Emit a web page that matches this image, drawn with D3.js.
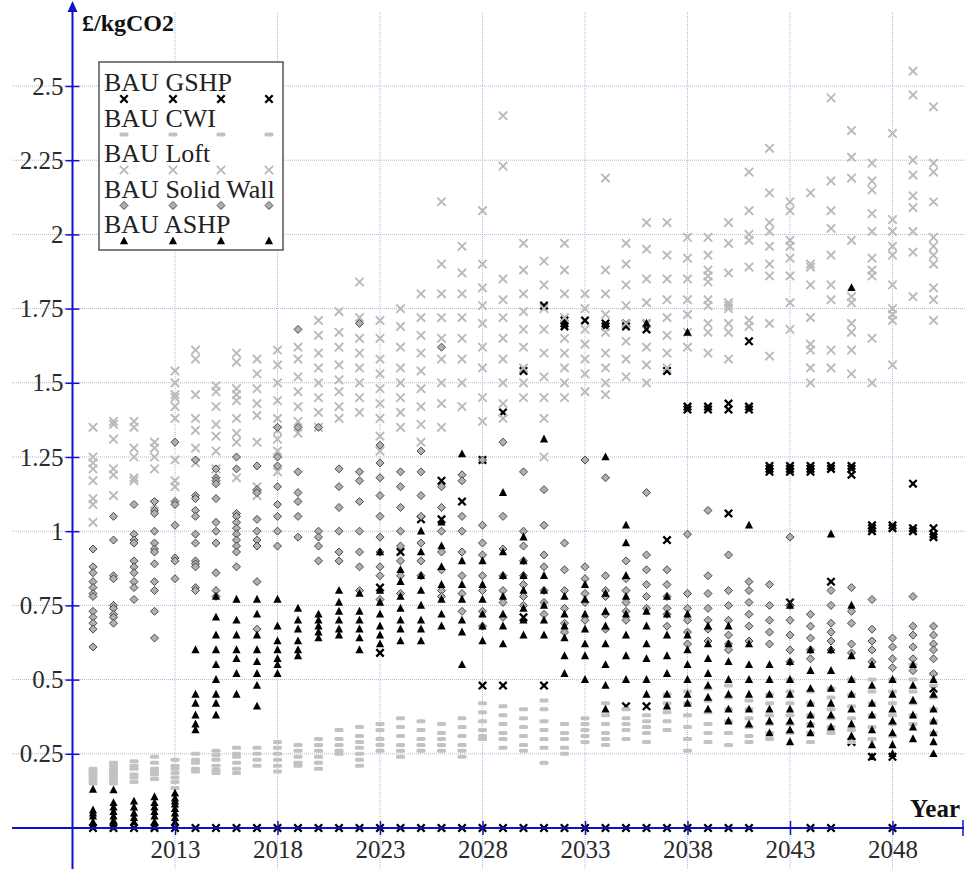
<!DOCTYPE html>
<html>
<head>
<meta charset="utf-8">
<script src="https://cdn.jsdelivr.net/npm/d3@7"></script>
<style>
  body { margin: 0; background: #fff; }
  text { font-family: "Liberation Serif", "Times New Roman", serif; }
</style>
</head>
<body>
<svg id="chart" width="966" height="869"></svg>
<script>
// ---- data (£/kgCO2 per year) ----
const years = [2009, 2010, 2011, 2012, 2013, 2014, 2015, 2016, 2017, 2018, 2019, 2020, 2021, 2022,
	2023, 2024, 2025, 2026, 2027, 2028, 2029, 2030, 2031, 2032, 2033, 2034, 2035, 2036, 2037, 2038,
	2039, 2040, 2041, 2042, 2043, 2044, 2045, 2046, 2047, 2048, 2049, 2050]

const gshp = [
	[0], [0], [0], [0], [0], [0], [0], [0], [0], [0], [0], [0], [0], [0],
	[0, 0.81, 0.59], [0, 0.93], [0, 1.04], [0, 1.17, 1.04], [0, 1.10], [0, 1.24, 0.48],
	[0, 1.40, 0.48], [0, 1.54, 0.71], [0, 1.76, 0.48], [0, 1.71, 1.70, 1.69], [0, 1.71],
	[0, 1.70, 1.69], [0, 1.70, 1.69, 0.41], [0, 1.70, 1.68, 0.41], [0, 1.54, 0.97],
	[0, 1.42, 1.41], [0, 1.42, 1.41], [0, 1.43, 1.41, 1.06], [0, 1.42, 1.41, 1.64],
	[1.22, 1.21, 1.20], [1.22, 1.21, 1.20, 0.76], [0, 1.22, 1.21, 1.20], [0, 1.22, 1.21, 0.83],
	[1.22, 1.21, 1.19, 0.29], [1.02, 1.01, 1.0, 0.24], [0, 1.02, 1.01, 0.24],
	[1.16, 1.01, 1.0], [1.01, 0.99, 0.98, 0.47]
]

const cwi = [
	[0.20, 0.19, 0.18, 0.17, 0.16, 0.15], [0.22, 0.21, 0.2, 0.19, 0.18, 0.17, 0.16, 0.15],
	[0.225, 0.21, 0.2, 0.18, 0.17, 0.155], [0.24, 0.22, 0.2, 0.19, 0.18, 0.165],
	[0.23, 0.21, 0.2, 0.185, 0.17, 0.155, 0.135], [0.25, 0.23, 0.22, 0.2, 0.19],
	[0.26, 0.245, 0.23, 0.21, 0.195, 0.185], [0.27, 0.25, 0.24, 0.22, 0.2, 0.185],
	[0.27, 0.25, 0.23, 0.21], [0.29, 0.27, 0.25, 0.23, 0.21, 0.19], [0.28, 0.26, 0.24, 0.22, 0.21],
	[0.30, 0.28, 0.26, 0.24, 0.22, 0.2], [0.33, 0.3, 0.28, 0.26, 0.25],
	[0.34, 0.31, 0.29, 0.27, 0.25, 0.23, 0.21], [0.35, 0.33, 0.3, 0.28, 0.26],
	[0.37, 0.34, 0.31, 0.28, 0.26, 0.24], [0.36, 0.33, 0.3, 0.28, 0.26], [0.35, 0.32, 0.3, 0.28, 0.26],
	[0.37, 0.34, 0.31, 0.28, 0.26, 0.24], [0.42, 0.39, 0.36, 0.33, 0.31, 0.3],
	[0.41, 0.38, 0.35, 0.32, 0.3, 0.27], [0.40, 0.37, 0.34, 0.31, 0.28, 0.26],
	[0.43, 0.4, 0.36, 0.33, 0.3, 0.27, 0.22], [0.35, 0.32, 0.3, 0.27, 0.25],
	[0.37, 0.35, 0.33, 0.31, 0.29], [0.42, 0.38, 0.35, 0.32, 0.3, 0.28], [0.40, 0.37, 0.35, 0.33, 0.3],
	[0.38, 0.36, 0.34, 0.32, 0.29], [0.45, 0.42, 0.39, 0.36, 0.33], [0.46, 0.42, 0.38, 0.34, 0.3, 0.26],
	[0.47, 0.43, 0.39, 0.35, 0.32, 0.29], [0.48, 0.44, 0.4, 0.36, 0.32, 0.28],
	[0.43, 0.4, 0.37, 0.34, 0.31, 0.29], [0.45, 0.42, 0.38, 0.35, 0.32, 0.3],
	[0.5, 0.46, 0.42, 0.38, 0.35, 0.32], [0.46, 0.42, 0.38, 0.35, 0.32, 0.29],
	[0.47, 0.44, 0.4, 0.37, 0.34, 0.32], [0.5, 0.45, 0.41, 0.37, 0.33, 0.29],
	[0.5, 0.46, 0.42, 0.38, 0.34, 0.3], [0.5, 0.46, 0.42, 0.38, 0.35, 0.31],
	[0.55, 0.5, 0.46, 0.42, 0.38, 0.35], [0.52, 0.48, 0.44, 0.4, 0.36, 0.32]
]

const loft = [
	[1.35, 1.25, 1.23, 1.21, 1.17, 1.11, 1.09, 1.03], [1.37, 1.36, 1.31, 1.21, 1.19, 1.12],
	[1.37, 1.35, 1.28, 1.25, 1.18, 1.17], [1.30, 1.28, 1.25, 1.21, 1.09],
	[1.54, 1.5, 1.46, 1.45, 1.42, 1.38, 1.24, 1.17, 1.15], [1.61, 1.58, 1.46, 1.38, 1.34, 1.28, 1.23],
	[1.49, 1.47, 1.42, 1.36, 1.32, 1.27, 1.21], [1.60, 1.57, 1.48, 1.46, 1.44, 1.38, 1.33, 1.30, 1.18],
	[1.58, 1.53, 1.48, 1.43, 1.39, 1.30, 1.15, 1.12], [1.61, 1.56, 1.5, 1.44, 1.38, 1.34, 1.31, 1.27, 1.2],
	[1.62, 1.58, 1.52, 1.47, 1.42, 1.37, 1.33], [1.71, 1.66, 1.6, 1.55, 1.5, 1.45, 1.4, 1.35],
	[1.74, 1.67, 1.62, 1.56, 1.51, 1.47, 1.42, 1.38], [1.84, 1.72, 1.65, 1.6, 1.55, 1.5, 1.45, 1.4],
	[1.71, 1.65, 1.58, 1.53, 1.48, 1.43, 1.38, 1.32, 1.27], [1.75, 1.69, 1.62, 1.55, 1.5, 1.45, 1.4, 1.35],
	[1.8, 1.72, 1.66, 1.6, 1.54, 1.48, 1.42, 1.36, 1.3], [2.11, 1.9, 1.8, 1.72, 1.65, 1.58, 1.5, 1.43, 1.35],
	[1.96, 1.87, 1.8, 1.72, 1.65, 1.58, 1.5, 1.42], [2.08, 1.9, 1.82, 1.76, 1.7, 1.62, 1.55, 1.45, 1.37],
	[2.40, 2.23, 1.85, 1.78, 1.72, 1.65, 1.58, 1.5, 1.43, 1.38], [1.97, 1.88, 1.8, 1.74, 1.68, 1.62, 1.55, 1.5, 1.45],
	[1.91, 1.83, 1.75, 1.68, 1.6, 1.52, 1.45, 1.38, 1.25], [1.97, 1.88, 1.8, 1.72, 1.65, 1.6, 1.55, 1.5, 1.45],
	[1.80, 1.75, 1.68, 1.63, 1.58, 1.53, 1.47], [2.19, 1.88, 1.8, 1.73, 1.67, 1.6, 1.55, 1.5, 1.46],
	[1.97, 1.9, 1.83, 1.76, 1.7, 1.64, 1.58, 1.52], [2.04, 1.95, 1.85, 1.77, 1.7, 1.62, 1.56, 1.5],
	[2.04, 1.93, 1.85, 1.78, 1.72, 1.66, 1.6, 1.55], [1.99, 1.92, 1.85, 1.78, 1.73, 1.67, 1.62],
	[1.99, 1.93, 1.88, 1.86, 1.84, 1.78, 1.76, 1.7, 1.67, 1.6],
	[2.04, 1.97, 1.87, 1.77, 1.76, 1.75, 1.7, 1.67, 1.58], [2.21, 2.08, 2.0, 1.98, 1.89, 1.71, 1.69],
	[2.29, 2.14, 2.04, 2.01, 1.96, 1.9, 1.86, 1.7, 1.59], [2.11, 2.08, 1.98, 1.96, 1.92, 1.86, 1.77, 1.68],
	[2.14, 1.9, 1.89, 1.83, 1.72, 1.63, 1.61, 1.55, 1.5], [2.46, 2.18, 2.08, 2.02, 1.93, 1.83, 1.78, 1.61, 1.55],
	[2.35, 2.26, 2.19, 1.98, 1.79, 1.77, 1.7, 1.67, 1.61, 1.53],
	[2.24, 2.18, 2.15, 2.07, 2.01, 1.92, 1.88, 1.86, 1.65, 1.5],
	[2.34, 2.05, 2.01, 1.96, 1.93, 1.83, 1.75, 1.73, 1.71, 1.56],
	[2.55, 2.47, 2.25, 2.2, 2.13, 2.09, 2.01, 1.94, 1.79],
	[2.43, 2.24, 2.21, 2.11, 1.99, 1.96, 1.93, 1.9, 1.82, 1.78, 1.71]
]

const solidWall = [
	[0.94, 0.88, 0.86, 0.83, 0.81, 0.79, 0.78, 0.73, 0.71, 0.69, 0.67, 0.61],
	[1.05, 0.97, 0.85, 0.84, 0.75, 0.74, 0.72, 0.71, 0.69],
	[1.09, 0.99, 0.97, 0.96, 0.9, 0.88, 0.86, 0.83, 0.81, 0.77],
	[1.10, 1.07, 1.06, 1.0, 0.96, 0.94, 0.93, 0.89, 0.83, 0.80, 0.73, 0.64],
	[1.30, 1.10, 1.09, 1.02, 0.91, 0.90, 0.84],
	[1.24, 1.12, 1.11, 1.07, 1.05, 0.99, 0.96, 0.9, 0.89, 0.88, 0.81, 0.8],
	[1.21, 1.18, 1.17, 1.16, 1.11, 1.03, 1.0, 0.96, 0.86, 0.8, 0.78],
	[1.25, 1.21, 1.06, 1.05, 1.03, 1.01, 0.99, 0.97, 0.95, 0.93, 0.88],
	[1.22, 1.14, 1.13, 1.04, 1.0, 0.97, 0.95, 0.83, 0.67],
	[1.35, 1.25, 1.22, 1.15, 1.09, 1.05, 1.0, 0.95],
	[1.68, 1.35, 1.2, 1.13, 1.1, 1.05, 0.98],
	[1.35, 1.0, 0.98, 0.95, 0.9],
	[1.21, 1.15, 1.08, 1.0, 0.93, 0.9],
	[1.70, 1.2, 1.17, 1.1, 1.0, 0.93, 0.88, 0.8],
	[1.29, 1.23, 1.18, 1.12, 1.05, 0.98, 0.93, 0.88, 0.85, 0.77],
	[1.2, 1.15, 1.08, 1.0, 0.95, 0.9, 0.85, 0.79],
	[1.27, 1.2, 1.12, 1.05, 0.96, 0.9, 0.85],
	[1.62, 1.15, 1.08, 1.0, 0.93, 0.87, 0.8, 0.78],
	[1.19, 1.17, 1.05, 1.0, 0.93, 0.85, 0.79, 0.73],
	[1.24, 1.02, 0.96, 0.92, 0.85, 0.8, 0.73, 0.68],
	[1.30, 1.05, 0.94, 0.85, 0.8, 0.76, 0.71],
	[1.20, 1.0, 0.95, 0.9, 0.85, 0.82, 0.78, 0.75],
	[1.14, 1.02, 0.92, 0.88, 0.8, 0.76, 0.72],
	[0.96, 0.87, 0.8, 0.74, 0.69, 0.66],
	[1.24, 0.88, 0.84, 0.79, 0.76, 0.7],
	[1.18, 0.85, 0.8, 0.78, 0.72, 0.67],
	[0.9, 0.84, 0.8, 0.76, 0.73, 0.7],
	[1.13, 0.92, 0.87, 0.82, 0.78, 0.74],
	[0.87, 0.82, 0.78, 0.74, 0.72, 0.68],
	[0.99, 0.79, 0.74, 0.7, 0.66, 0.62],
	[1.07, 0.85, 0.79, 0.74, 0.7, 0.67, 0.63],
	[0.92, 0.8, 0.75, 0.7, 0.65, 0.62, 0.6],
	[0.83, 0.8, 0.76, 0.72, 0.68, 0.63],
	[0.82, 0.75, 0.7, 0.66, 0.62],
	[0.98, 0.75, 0.7, 0.65, 0.6, 0.56],
	[0.72, 0.68, 0.64, 0.6, 0.57],
	[0.8, 0.75, 0.69, 0.66, 0.63, 0.6],
	[0.81, 0.73, 0.69, 0.62, 0.59],
	[0.77, 0.67, 0.63, 0.6, 0.56],
	[0.64, 0.61, 0.57, 0.54],
	[0.78, 0.68, 0.65, 0.61, 0.57, 0.53],
	[0.68, 0.65, 0.62, 0.6, 0.57, 0.52]
]

const ashp = [
	[0.13, 0.06, 0.05, 0.04, 0.02, 0.01], [0.128, 0.085, 0.07, 0.055, 0.04, 0.025, 0.01],
	[0.09, 0.07, 0.05, 0.035, 0.02], [0.105, 0.085, 0.07, 0.055, 0.04, 0.02, 0.005],
	[0.117, 0.1, 0.09, 0.08, 0.065, 0.05, 0.035, 0.02],
	[0.6, 0.45, 0.42, 0.38, 0.35, 0.33],
	[0.78, 0.71, 0.65, 0.6, 0.55, 0.5, 0.45, 0.42, 0.38],
	[0.77, 0.7, 0.65, 0.6, 0.57, 0.52, 0.45],
	[0.77, 0.72, 0.65, 0.6, 0.56, 0.52, 0.48, 0.41],
	[0.77, 0.68, 0.63, 0.6, 0.57, 0.55, 0.52],
	[0.74, 0.7, 0.67, 0.63, 0.6, 0.58],
	[0.72, 0.7, 0.68, 0.66, 0.64],
	[0.8, 0.76, 0.73, 0.7, 0.67, 0.65],
	[0.79, 0.73, 0.7, 0.67, 0.64, 0.6],
	[0.93, 0.8, 0.76, 0.72, 0.68, 0.65, 0.62],
	[0.87, 0.83, 0.78, 0.74, 0.7, 0.67, 0.63],
	[1.0, 0.93, 0.85, 0.8, 0.75, 0.7, 0.67, 0.63],
	[1.03, 0.95, 0.88, 0.82, 0.77, 0.72, 0.68],
	[1.26, 0.9, 0.82, 0.77, 0.7, 0.66, 0.55],
	[0.9, 0.82, 0.77, 0.72, 0.68, 0.63],
	[1.13, 0.93, 0.85, 0.78, 0.72, 0.68, 0.62],
	[0.98, 0.9, 0.85, 0.8, 0.74, 0.7, 0.65],
	[1.31, 0.85, 0.8, 0.75, 0.7, 0.65],
	[1.7, 0.78, 0.72, 0.68, 0.64, 0.58, 0.52],
	[0.82, 0.77, 0.72, 0.67, 0.62, 0.58, 0.5],
	[1.25, 0.79, 0.73, 0.68, 0.62, 0.55, 0.48, 0.4],
	[1.02, 0.96, 0.85, 0.78, 0.72, 0.65, 0.58, 0.5],
	[1.70, 0.73, 0.68, 0.62, 0.57, 0.5, 0.45],
	[0.78, 0.72, 0.65, 0.58, 0.52, 0.45, 0.41],
	[1.67, 0.72, 0.65, 0.6, 0.55, 0.5, 0.45, 0.42],
	[0.68, 0.62, 0.57, 0.52, 0.48, 0.44, 0.4],
	[0.68, 0.62, 0.56, 0.5, 0.45, 0.4, 0.36],
	[1.02, 0.62, 0.55, 0.5, 0.45, 0.4, 0.35],
	[0.55, 0.5, 0.45, 0.4, 0.36, 0.32],
	[0.75, 0.56, 0.5, 0.45, 0.4, 0.36, 0.33, 0.29],
	[0.6, 0.53, 0.47, 0.42, 0.38, 0.35, 0.32],
	[0.99, 0.6, 0.53, 0.47, 0.42, 0.38, 0.34],
	[1.82, 0.75, 0.58, 0.5, 0.45, 0.4, 0.35, 0.31],
	[0.55, 0.48, 0.42, 0.38, 0.33, 0.28, 0.24],
	[0.5, 0.45, 0.4, 0.36, 0.32, 0.28, 0.25],
	[0.55, 0.48, 0.43, 0.38, 0.34, 0.3],
	[0.5, 0.45, 0.4, 0.36, 0.32, 0.29, 0.25]
]

const seriesNames = ["BAU GSHP", "BAU CWI", "BAU Loft", "BAU Solid Wall", "BAU ASHP"]
const xTicks = [2013, 2018, 2023, 2028, 2033, 2038, 2043, 2048]
const yTicks = [0.25, 0.5, 0.75, 1, 1.25, 1.5, 1.75, 2, 2.25, 2.5]
const yTickLabels = ["0.25", "0.5", "0.75", "1", "1.25", "1.5", "1.75", "2", "2.25", "2.5"]

// ---- layout ----
const W = 966, H = 869
const axisColour = "#1010c8"
const gridColour = "#b4b4dc"
const serif = "'Liberation Serif', 'Times New Roman', serif"

const x = d3.scaleLinear().domain([2008, 2050]).range([72.5, 933.5])
const y = d3.scaleLinear().domain([0, 2.5]).range([828, 86])

const svg = d3.select("#chart")

// marker painters, one per series
const markers = [
	g => g.append("path").attr("d", "M-3.7,-3.7L3.7,3.7M-3.7,3.7L3.7,-3.7")
		.attr("stroke", "#000").attr("stroke-width", 2.3).attr("fill", "none"),
	g => g.append("rect").attr("x", -4.5).attr("y", -2).attr("width", 9).attr("height", 4)
		.attr("rx", 1.5).attr("fill", "#c2c2c2"),
	g => g.append("path").attr("d", "M-4.2,-4.2L4.2,4.2M-4.2,4.2L4.2,-4.2")
		.attr("stroke", "#bababa").attr("stroke-width", 1.9).attr("fill", "none"),
	g => g.append("path").attr("d", "M0,-4L4,0L0,4L-4,0Z")
		.attr("fill", "#b0b0b0").attr("stroke", "#3a3a3a").attr("stroke-width", 0.9),
	g => g.append("path").attr("d", "M0,-4.6L4.1,3.3L-4.1,3.3Z").attr("fill", "#000"),
]

// ---- grid ----
const grid = svg.append("g").attr("class", "grid")
grid.selectAll("line.h")
	.data(yTicks)
	.join("line")
	.attr("class", "h")
	.attr("x1", 12).attr("x2", W)
	.attr("y1", d => y(d)).attr("y2", d => y(d))
grid.selectAll("line.v")
	.data(xTicks)
	.join("line")
	.attr("class", "v")
	.attr("x1", d => x(d)).attr("x2", d => x(d))
	.attr("y1", 12).attr("y2", H)
grid.selectAll("line")
	.attr("stroke", gridColour)
	.attr("stroke-width", 1)
	.attr("stroke-dasharray", "1,1")

// ---- points ----
const allSeries = [gshp, cwi, loft, solidWall, ashp]
allSeries.forEach((series, si) => {
	let pts = []
	series.forEach((vals, i) => vals.forEach(v => pts.push({ year: years[i], value: v })))
	svg.append("g")
		.attr("class", "series")
		.selectAll("g")
		.data(pts)
		.join("g")
		.attr("transform", d => `translate(${x(d.year)},${y(d.value)})`)
		.each(function() { markers[si](d3.select(this)) })
})

// ---- axes ----
const yAxis = d3.axisLeft(y)
	.tickValues(yTicks)
	.tickFormat((d, i) => yTickLabels[i])
	.tickSizeInner(7)
	.tickSizeOuter(0)
	.tickPadding(2)
const yG = svg.append("g")
	.attr("transform", `translate(${x(2008)},0)`)
	.call(yAxis)
yG.select(".domain").remove()
yG.selectAll(".tick line").attr("x2", -7).attr("x1", 7).attr("stroke", axisColour).attr("stroke-width", 1.5)
yG.selectAll(".tick text")
	.attr("x", -9)
	.attr("fill", "#2a2a2a")
	.style("font-family", serif)
	.style("font-size", "25px")

const xAxis = d3.axisBottom(x)
	.tickValues(xTicks)
	.tickFormat(d3.format("d"))
	.tickSizeInner(7)
	.tickSizeOuter(0)
	.tickPadding(4)
const xG = svg.append("g")
	.attr("transform", `translate(0,${y(0)})`)
	.call(xAxis)
xG.select(".domain").remove()
xG.selectAll(".tick line").attr("y1", -7).attr("y2", 7).attr("stroke", axisColour).attr("stroke-width", 1.5)
xG.selectAll(".tick text")
	.attr("y", 12)
	.attr("dy", "0.71em")
	.attr("fill", "#2a2a2a")
	.style("font-family", serif)
	.style("font-size", "25px")

// axis lines with arrow / end bar
svg.append("line")
	.attr("x1", 12).attr("x2", W - 2)
	.attr("y1", y(0)).attr("y2", y(0))
	.attr("stroke", axisColour).attr("stroke-width", 2)
svg.append("line")
	.attr("x1", W - 3).attr("x2", W - 3)
	.attr("y1", y(0) - 8).attr("y2", y(0) + 8)
	.attr("stroke", axisColour).attr("stroke-width", 1.5)
svg.append("line")
	.attr("x1", x(2008)).attr("x2", x(2008))
	.attr("y1", H).attr("y2", 8)
	.attr("stroke", axisColour).attr("stroke-width", 2)
svg.append("path")
	.attr("d", `M${x(2008)},1L${x(2008) - 5},12L${x(2008) + 5},12Z`)
	.attr("fill", axisColour)

svg.append("text")
	.attr("x", 82).attr("y", 31)
	.attr("font-weight", "bold")
	.attr("font-size", 24)
	.attr("fill", "#111")
	.text("£/kgCO2")
svg.append("text")
	.attr("x", W - 6).attr("y", 817)
	.attr("text-anchor", "end")
	.attr("font-weight", "bold")
	.attr("font-size", 25)
	.attr("fill", "#111")
	.text("Year")

// ---- legend ----
const legend = svg.append("g").attr("class", "legend")
legend.append("rect")
	.attr("x", 99).attr("y", 62)
	.attr("width", 184).attr("height", 188)
	.attr("fill", "#fff")
	.attr("stroke", "#555")
	.attr("stroke-width", 1.5)
const rowY = d3.scaleLinear().domain([0, 4]).range([91, 233])
const markerX = [124, 173, 221, 269]
seriesNames.forEach((name, i) => {
	legend.append("text")
		.attr("x", 104).attr("y", rowY(i))
		.attr("font-size", 26)
		.attr("fill", "#222")
		.text(name)
	markerX.forEach(mx => {
		let g = legend.append("g").attr("transform", `translate(${mx},${rowY(i) + 8})`)
		markers[i](g)
	})
})
</script>
</body>
</html>
